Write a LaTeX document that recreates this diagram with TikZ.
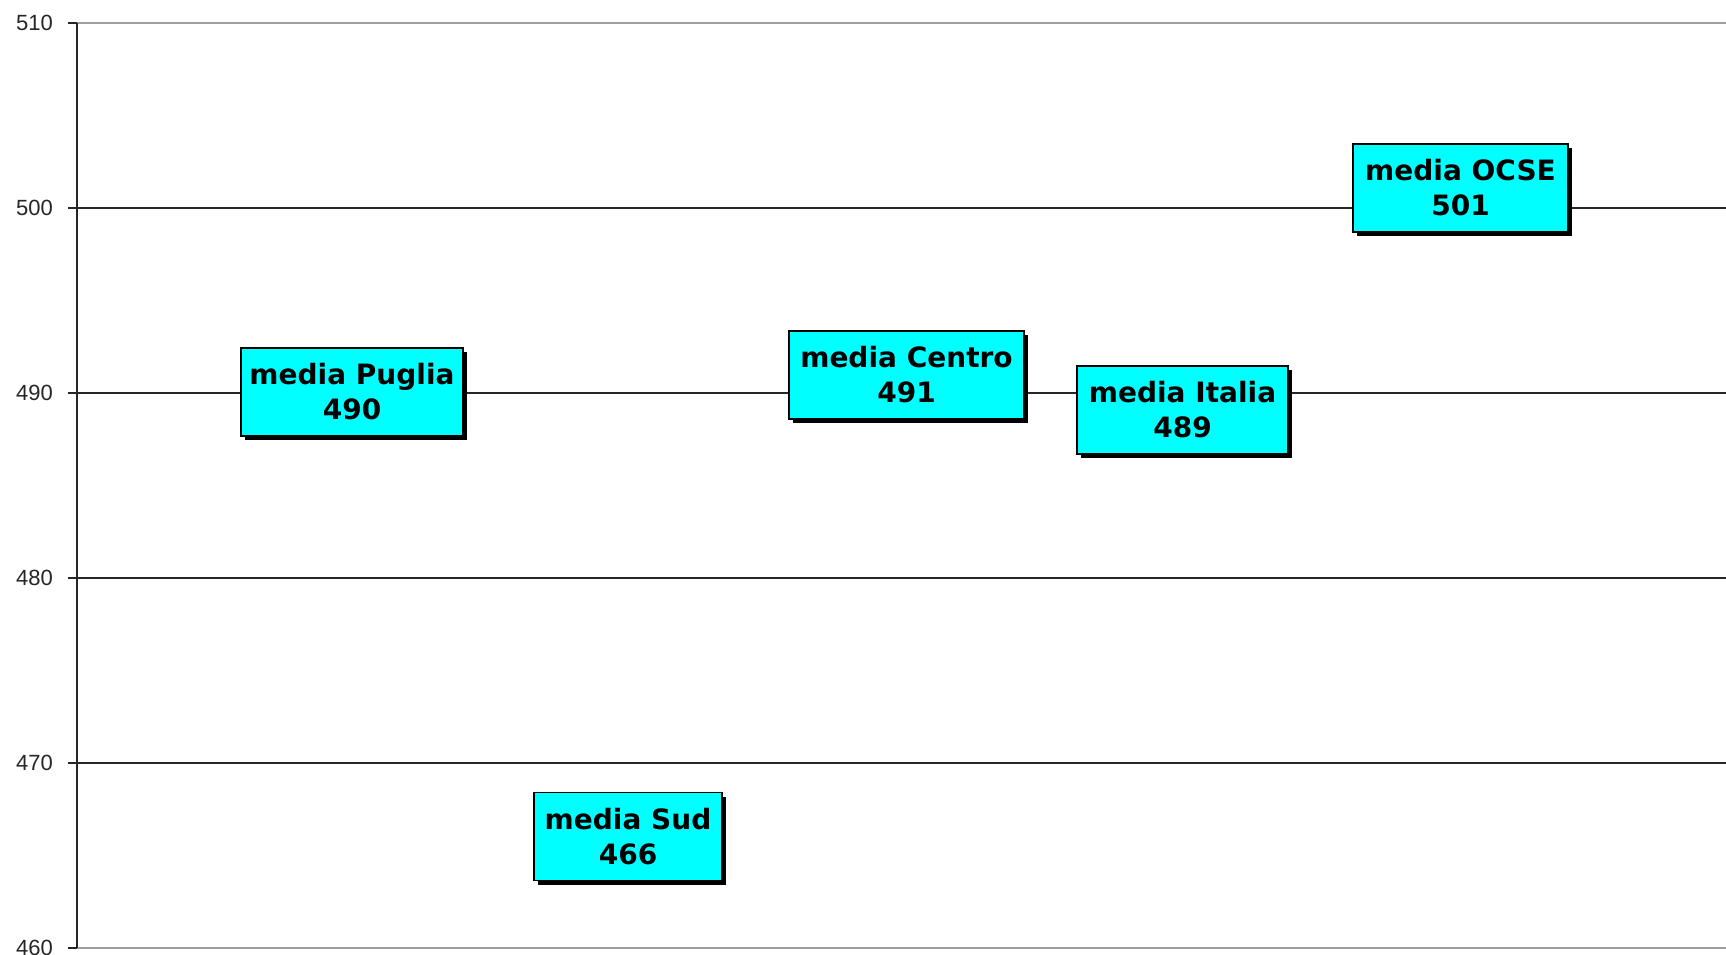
\documentclass[tikz,border=0pt]{standalone}
\usepackage{fontspec}
\setmainfont{Liberation Sans}
\newfontfamily\boxfont{DejaVu Sans}
\usetikzlibrary{shadows}
\definecolor{aqua}{RGB}{0,255,255}
\begin{document}
\begin{tikzpicture}[x=1pt,y=-1pt,
  gridline/.style={line width=2pt,color=black!85},
  frameline/.style={line width=2pt,color=black!38},
  axisline/.style={line width=2pt,color=black!85},
  ticklabel/.style={anchor=east,inner sep=0pt,text=black!85,font=\fontsize{22}{22}\selectfont},
  mbox/.style={draw=black,line width=1.5pt,fill=aqua,minimum height=88pt,inner sep=0pt,
    align=center,font=\boxfont\bfseries\fontsize{28}{35}\selectfont,
    drop shadow={shadow xshift=4pt,shadow yshift=-4pt,opacity=1,fill=black}}
]
\useasboundingbox (0,0) rectangle (1726,954);
\fill[white] (0,0) rectangle (1726,954);
% horizontal grid
\foreach \v/\yy/\st in {510/23/frameline,500/208/gridline,490/393/gridline,480/578/gridline,470/763/gridline,460/948/frameline}{
  \coordinate (g\v) at (77,\yy);
  \coordinate (t\v) at (68,\yy);
  \draw[\st] (g\v) -- (1726,\yy);
  \draw[axisline] (t\v) -- (g\v);
  \node[ticklabel] (l\v) at (53,\yy) {\v};
}
\draw[axisline] (g510) -- (g460);
% boxes
\node[mbox,minimum width=222pt] (puglia) at (352,392) {media Puglia\\490};
\node[mbox,minimum width=235pt] (centro) at (906.5,375) {media Centro\\491};
\node[mbox,minimum width=211pt] (italia) at (1182.5,410) {media Italia\\489};
\node[mbox,minimum width=215pt] (ocse) at (1460.5,188) {media OCSE\\501};
\node[mbox,minimum width=188pt] (sud) at (628,836.5) {media Sud\\466};
\end{tikzpicture}
\end{document}
